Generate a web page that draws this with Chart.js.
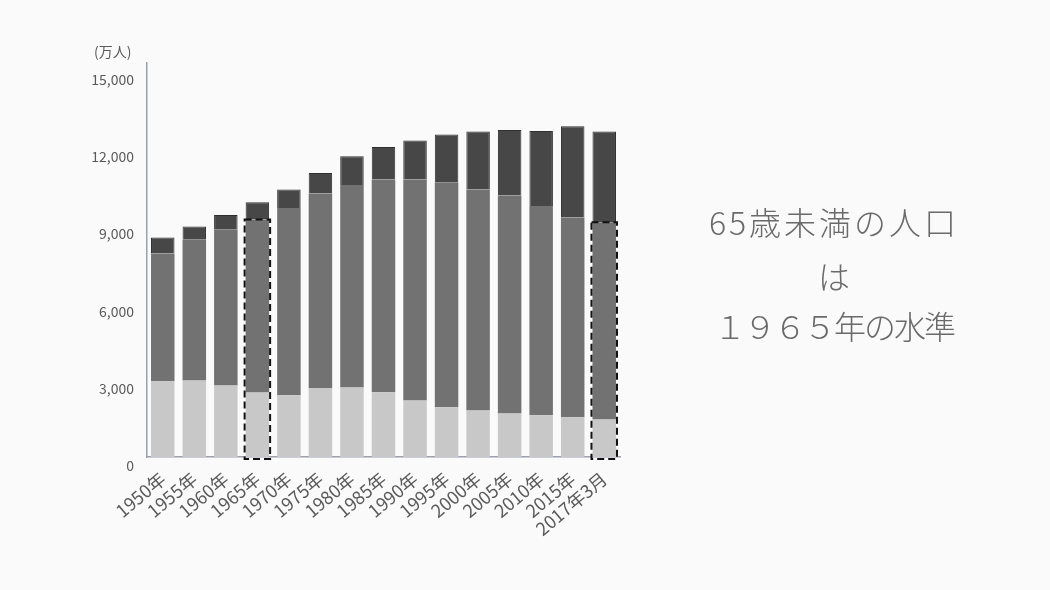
<!DOCTYPE html>
<html>
<head>
<meta charset="utf-8">
<script src="https://cdn.jsdelivr.net/npm/chart.js@4.4.1/dist/chart.umd.min.js"></script>
<style>
  html, body { margin: 0; padding: 0; background: #fafafa; }
  #wrap { position: relative; width: 1050px; height: 590px; overflow: hidden; background: #fafafa; }
  #c { position: absolute; left: 0; top: 0; }
  .unit { position: absolute; left: 94px; top: 41px; font: 14px 'Noto Sans CJK JP', 'Noto Sans', sans-serif; color: #5a5a5a; }
  .msg { position: absolute; left: 682px; width: 304px; text-align: center;
         font-family: 'Noto Sans CJK JP', 'Noto Sans', sans-serif; font-weight: 300;
         font-size: 32px; color: #6a6a6a; line-height: 1; white-space: nowrap; }
</style>
</head>
<body>
<div id="wrap">
  <canvas id="c" width="1050" height="590"></canvas>
  <div class="unit">(万人)</div>
  <div class="msg" style="top:205px; letter-spacing:3px;">65歳未満の人口</div>
  <div class="msg" style="top:259px;">は</div>
  <div class="msg" style="top:309px; letter-spacing:-2px;">１９６５年の水準</div>
</div>
<script>
const categories = ['1950年','1955年','1960年','1965年','1970年','1975年','1980年','1985年','1990年','1995年','2000年','2005年','2010年','2015年','2017年3月'];
const under15 = [2938,2965,2771,2499,2395,2678,2701,2511,2189,1929,1801,1684,1618,1541,1452];
const age15to64 = [4956,5484,6066,6714,7269,7544,7855,8255,8577,8732,8577,8461,8123,7750,7657];
const age65plus = [621,493,555,672,714,800,1114,1265,1513,1851,2251,2546,2911,3543,3520];
const highlighted = ['1965年','2017年3月'];
const yTicks = [0,3000,6000,9000,12000,15000];

const FONT = "'Noto Sans CJK JP', 'Noto Sans', sans-serif";

const dashedBox = {
  id: 'dashedBox',
  afterDatasetsDraw(chart) {
    const m0 = chart.getDatasetMeta(0), m1 = chart.getDatasetMeta(1);
    const ctx = chart.ctx;
    ctx.save();
    ctx.strokeStyle = '#111';
    ctx.lineWidth = 2;
    ctx.setLineDash([7, 4]);
    highlighted.forEach(lbl => {
      const i = categories.indexOf(lbl);
      const b0 = m0.data[i], b1 = m1.data[i];
      const left = b1.x - b1.width / 2 - 1;
      const right = b1.x + b1.width / 2 + 1;
      const top = b1.y;
      const bottom = b0.base + 2;
      ctx.strokeRect(left, top, right - left, bottom - top);
    });
    ctx.restore();
  }
};

new Chart(document.getElementById('c'), {
  type: 'bar',
  data: {
    labels: categories,
    datasets: [
      { label: '0-14歳', data: under15, backgroundColor: '#c8c8c8', borderWidth: 0 },
      { label: '15-64歳', data: age15to64, backgroundColor: '#727272', borderWidth: 0 },
      { label: '65歳以上', data: age65plus, backgroundColor: '#474747', borderColor: '#2e2e2e', borderWidth: {top:1,left:1,right:1,bottom:0} }
    ]
  },
  options: {
    responsive: false,
    animation: false,
    devicePixelRatio: 1,
    layout: { padding: { left: 0, top: 63, right: 430, bottom: 0 } },
    datasets: { bar: { categoryPercentage: 1, barPercentage: 0.745 } },
    plugins: { legend: { display: false }, tooltip: { enabled: false } },
    scales: {
      x: {
        stacked: true,
        grid: { display: false, drawTicks: false },
        border: { display: true, color: '#9ba0b0', width: 1.5 },
        ticks: { color: '#5a5a5a', font: { family: FONT, size: 18 }, minRotation: 40, maxRotation: 40, padding: 11, autoSkip: false },
        afterFit(s) { s.height = 133; }
      },
      y: {
        stacked: true,
        min: 0,
        max: 15290,
        grid: { display: false, drawTicks: false },
        border: { display: true, color: '#9ba0b0', width: 1.5 },
        afterBuildTicks(s) { s.ticks = yTicks.map(v => ({ value: v })); },
        ticks: {
          color: '#5a5a5a', font: { family: FONT, size: 14 }, padding: 13, labelOffset: 9,
          callback: v => v.toLocaleString('en-US')
        },
        afterFit(s) { s.width = 147; }
      }
    }
  },
  plugins: [dashedBox]
});
</script>
</body>
</html>
